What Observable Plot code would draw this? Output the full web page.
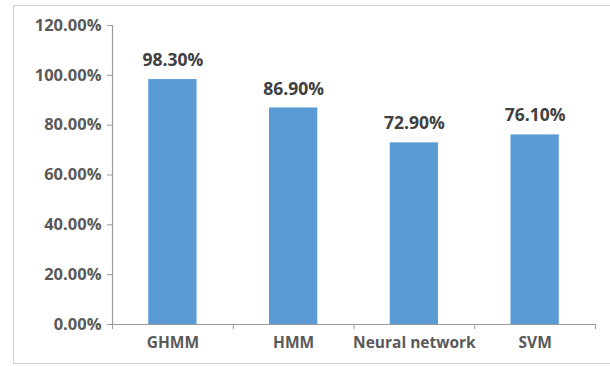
<!DOCTYPE html>
<html>
<head>
<meta charset="utf-8">
<script src="https://cdn.jsdelivr.net/npm/d3@7"></script>
<script src="https://cdn.jsdelivr.net/npm/@observablehq/plot@0.6"></script>
<style>
  html, body { margin: 0; padding: 0; background: #fff; overflow: hidden; }
  #wrap { position: relative; width: 610px; height: 366px; overflow: hidden; }
  #border { position: absolute; left: 13px; top: 5px; width: 620px; height: 359px;
            border: 1px solid #d0d0d0; box-sizing: border-box; }
  #chart { position: absolute; left: 0; top: 0; }
</style>
</head>
<body>
<div id="wrap"><div id="border"></div><div id="chart"></div></div>
<script>
// Recognition accuracy per method
const methods = ["GHMM", "HMM", "Neural network", "SVM"];
const accuracy = [0.983, 0.869, 0.729, 0.761];
const yTicks = [0, 0.2, 0.4, 0.6, 0.8, 1.0, 1.2];

const rows = methods.map((m, i) => ({method: m, index: i, value: accuracy[i]}));
const pct = d3.format(".2%");
const font = "'Open Sans', 'DejaVu Sans', sans-serif";
const axisGray = "#9a9a9a";
const textGray = "#595959";

const chart = Plot.plot({
  width: 610,
  height: 366,
  marginLeft: 112,
  marginRight: 15,
  marginTop: 25,
  marginBottom: 42,
  style: {fontFamily: font, background: "transparent"},
  x: {domain: [0, methods.length]},
  y: {domain: [0, 1.2]},
  marks: [
    Plot.rectY(rows, {
      x1: d => d.index + 0.3,
      x2: d => d.index + 0.7,
      y1: 0,
      y2: "value",
      fill: "#5b9bd5"
    }),
    Plot.text(rows, {
      x: d => d.index + 0.5,
      y: "value",
      text: d => pct(d.value),
      dy: -19,
      fontSize: 17.5,
      fontWeight: "bold",
      fill: "#404040"
    }),
    Plot.ruleX([0], {stroke: axisGray, strokeWidth: 1.2}),
    Plot.ruleY([0], {stroke: axisGray, strokeWidth: 1.2}),
    Plot.axisY({
      ticks: yTicks,
      tickFormat: pct,
      tickSize: 5,
      tickPadding: 6,
      stroke: axisGray,
      fill: textGray,
      fontSize: 16.5,
      fontWeight: "bold",
      label: null
    }),
    Plot.axisX({
      ticks: d3.range(methods.length + 1),
      tickFormat: () => "",
      tickSize: 5,
      stroke: axisGray,
      label: null
    }),
    Plot.axisX({
      ticks: methods.map((m, i) => i + 0.5),
      tickFormat: t => methods[Math.floor(t)],
      tickSize: 0,
      tickPadding: 12,
      fill: textGray,
      fontSize: 15.5,
      fontWeight: "bold",
      label: null
    })
  ]
});
document.getElementById("chart").appendChild(chart);
</script>
</body>
</html>
